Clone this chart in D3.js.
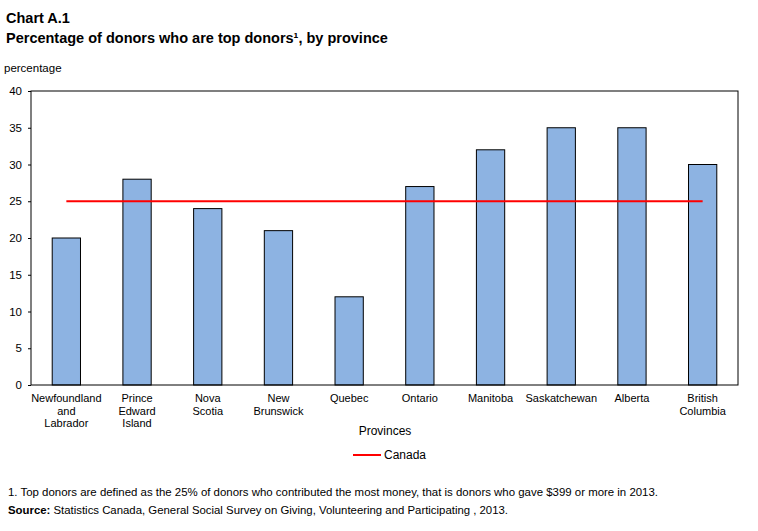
<!DOCTYPE html>
<html><head><meta charset="utf-8">
<script src="https://cdn.jsdelivr.net/npm/d3@7"></script>
<style>body{margin:0;background:#fff;} text{font-family:"Liberation Sans",Arial,sans-serif;}</style>
</head><body><svg id="c" width="758" height="531"></svg>
<script>
const categories = [["Newfoundland","and","Labrador"],["Prince","Edward","Island"],["Nova","Scotia"],["New","Brunswick"],["Quebec"],["Ontario"],["Manitoba"],["Saskatchewan"],["Alberta"],["British","Columbia"]];
const values = [20,28,24,21,12,27,32,35,35,30];
const canadaValue = 25;
const yTicks = [0,5,10,15,20,25,30,35,40];

const svg = d3.select("#c");
const m = {l:31, r:738, t:91, b:385};
const keys = categories.map(d=>d.join(" "));
const x = d3.scaleBand().domain(keys).range([m.l,m.r]).paddingInner(0.6).paddingOuter(0.3);
const y = d3.scaleLinear().domain([0,40]).range([m.b,m.t]);

svg.append("text").attr("x",6).attr("y",23).attr("font-size",14.5).attr("font-weight","bold").text("Chart  A.1");
svg.append("text").attr("x",6).attr("y",43).attr("font-size",14.5).attr("font-weight","bold").text("Percentage of donors who are top donors¹, by province");
svg.append("text").attr("x",4).attr("y",72).attr("font-size",11.5).text("percentage");

const yAxis = svg.append("g").attr("transform",`translate(${m.l},0)`)
  .call(d3.axisLeft(y).tickValues(yTicks).tickSize(3).tickPadding(6).tickFormat(d3.format("d")));
yAxis.select(".domain").remove();
yAxis.selectAll("text").attr("font-size",11.5).attr("font-family","Liberation Sans, Arial, sans-serif").attr("fill","#000");
yAxis.selectAll("line").attr("stroke","#000");

svg.append("g").selectAll("rect").data(values).join("rect")
  .attr("x",(d,i)=>x(keys[i])).attr("width",x.bandwidth())
  .attr("y",d=>y(d)).attr("height",d=>y(0)-y(d))
  .attr("fill","#8DB3E2").attr("stroke","#000").attr("stroke-width",1);

svg.append("rect").attr("x",m.l).attr("y",m.t).attr("width",m.r-m.l).attr("height",m.b-m.t)
  .attr("fill","none").attr("stroke","#000").attr("stroke-width",1);

svg.append("line")
  .attr("x1",x(keys[0])+x.bandwidth()/2).attr("x2",x(keys[keys.length-1])+x.bandwidth()/2)
  .attr("y1",y(canadaValue)).attr("y2",y(canadaValue))
  .attr("stroke","#FF0000").attr("stroke-width",2);

const xl = svg.append("g");
categories.forEach((lines,i)=>{
  const t = xl.append("text").attr("x",x(keys[i])+x.bandwidth()/2).attr("y",402)
    .attr("text-anchor","middle").attr("font-size",11);
  lines.forEach((ln,j)=>t.append("tspan").attr("x",x(keys[i])+x.bandwidth()/2).attr("y",402+j*12.5).text(ln));
});

svg.append("text").attr("x",385).attr("y",435).attr("text-anchor","middle").attr("font-size",12).text("Provinces");

svg.append("line").attr("x1",353).attr("x2",381).attr("y1",455).attr("y2",455).attr("stroke","#FF0000").attr("stroke-width",2);
svg.append("text").attr("x",384).attr("y",459).attr("font-size",12).text("Canada");

svg.append("text").attr("x",8).attr("y",496).attr("font-size",11).attr("textLength",650).attr("lengthAdjust","spacingAndGlyphs")
  .text("1.  Top donors are defined as the 25%  of donors who contributed the most money, that is donors who gave $399 or more in 2013.");
const s = svg.append("text").attr("x",8).attr("y",514).attr("font-size",11).attr("textLength",500).attr("lengthAdjust","spacingAndGlyphs");
s.append("tspan").attr("font-weight","bold").text("Source:");
s.append("tspan").text(" Statistics Canada, General Social Survey on Giving, Volunteering and Participating , 2013.");
</script></body></html>
